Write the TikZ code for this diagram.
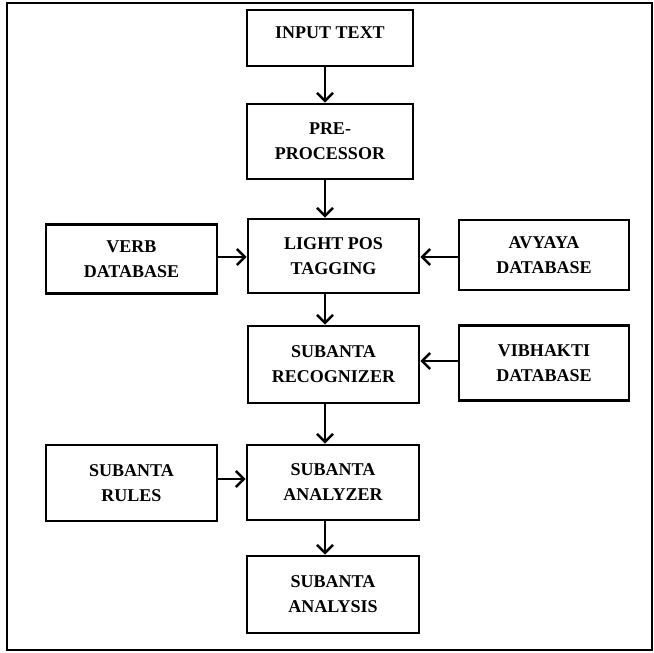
\documentclass[tikz,border=0pt]{standalone}
\usepackage{fontspec}
\setmainfont{Liberation Serif}
\usetikzlibrary{arrows.meta}
\begin{document}
\begin{tikzpicture}[x=1pt,y=-1pt,
  box/.style={draw,line width=2.8pt,inner sep=0pt,align=center,
    font=\bfseries\fontsize{18}{25}\selectfont},
  arr/.style={line width=2.4pt,-{Straight Barb[length=8pt,width=16pt,line width=2.4pt]}}]
\useasboundingbox (0,0) rectangle (654,653);
\draw[line width=2.5pt] (7,3) rectangle (652,650);
\node[box,minimum width=166pt,minimum height=56pt,text height=12pt,text depth=12pt] (inp) at (330,38) {INPUT TEXT};
\node[box,minimum width=166pt,minimum height=75pt] (pre) at (330,141.5) {PRE-\\PROCESSOR};
\node[box,minimum width=171pt,minimum height=74pt] (light) at (333.5,256) {LIGHT POS\\TAGGING};
\node[box,minimum width=171pt,minimum height=69pt] (verb) at (131.5,259) {VERB\\DATABASE};
\node[box,minimum width=170pt,minimum height=70pt] (avy) at (544,255) {AVYAYA\\DATABASE};
\node[box,minimum width=171pt,minimum height=77pt] (rec) at (333.5,364.5) {SUBANTA\\RECOGNIZER};
\node[box,minimum width=170pt,minimum height=75pt] (vib) at (544,363) {VIBHAKTI\\DATABASE};
\node[box,minimum width=171pt,minimum height=76pt] (rul) at (131.5,483) {SUBANTA\\RULES};
\node[box,minimum width=172pt,minimum height=75pt] (ana) at (333,482.5) {SUBANTA\\ANALYZER};
\node[box,minimum width=172pt,minimum height=77pt] (out) at (333,594.5) {SUBANTA\\ANALYSIS};
\coordinate (ax) at (325,0);
\coordinate (y1) at (0,257);
\coordinate (y2) at (0,361);
\coordinate (y3) at (0,479);
\draw[arr] (inp.south -| ax) -- (pre.north -| ax);
\draw[arr] (pre.south -| ax) -- (light.north -| ax);
\draw[arr] (light.south -| ax) -- (rec.north -| ax);
\draw[arr] (rec.south -| ax) -- (ana.north -| ax);
\draw[arr] (ana.south -| ax) -- (out.north -| ax);
\draw[arr] (verb.east |- y1) -- (light.west |- y1);
\draw[arr] (avy.west |- y1) -- (light.east |- y1);
\draw[arr] (vib.west |- y2) -- (rec.east |- y2);
\draw[arr] (rul.east |- y3) -- (ana.west |- y3);
\end{tikzpicture}
\end{document}
